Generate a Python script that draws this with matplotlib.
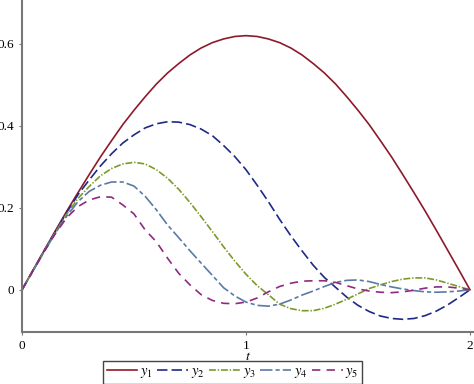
import matplotlib
matplotlib.use("Agg")
import matplotlib.pyplot as plt

plt.rcParams["font.family"] = ["Liberation Serif", "DejaVu Serif"]
plt.rcParams["mathtext.fontset"] = "stix"
plt.rcParams["lines.scale_dashes"] = False

# time grid (step 0.05) and the five solution curves
t = [0.00, 0.05, 0.10, 0.15, 0.20, 0.25, 0.30, 0.35, 0.40, 0.45,
     0.50, 0.55, 0.60, 0.65, 0.70, 0.75, 0.80, 0.85, 0.90, 0.95,
     1.00, 1.05, 1.10, 1.15, 1.20, 1.25, 1.30, 1.35, 1.40, 1.45,
     1.50, 1.55, 1.60, 1.65, 1.70, 1.75, 1.80, 1.85, 1.90, 1.95, 2.00]

y1 = [0.000, 0.049, 0.097, 0.145, 0.192, 0.237, 0.281, 0.324, 0.364, 0.403,
      0.438, 0.471, 0.502, 0.529, 0.552, 0.573, 0.590, 0.603, 0.612, 0.618,
      0.620, 0.618, 0.612, 0.603, 0.590, 0.573, 0.552, 0.529, 0.502, 0.471,
      0.438, 0.403, 0.364, 0.324, 0.281, 0.237, 0.192, 0.145, 0.097, 0.049, 0.000]

y2 = [0.000, 0.048, 0.096, 0.143, 0.189, 0.232, 0.268, 0.302, 0.332, 0.358,
      0.378, 0.395, 0.405, 0.410, 0.409, 0.403, 0.392, 0.376, 0.352, 0.325,
      0.293, 0.255, 0.215, 0.172, 0.132, 0.095, 0.060, 0.030, 0.006, -0.018,
      -0.038, -0.053, -0.064, -0.070, -0.072, -0.070, -0.063, -0.052, -0.037, -0.019, 0.000]

y3 = [0.000, 0.047, 0.095, 0.141, 0.185, 0.223, 0.252, 0.278, 0.296, 0.307,
      0.311, 0.307, 0.293, 0.272, 0.245, 0.213, 0.178, 0.142, 0.105, 0.070,
      0.038, 0.010, -0.012, -0.035, -0.046, -0.051, -0.051, -0.045, -0.035, -0.023,
      -0.010, 0.003, 0.012, 0.020, 0.026, 0.029, 0.029, 0.024, 0.016, 0.008, 0.000]

y4 = [0.000, 0.047, 0.094, 0.139, 0.180, 0.215, 0.240, 0.255, 0.263, 0.263,
      0.253, 0.228, 0.195, 0.158, 0.127, 0.095, 0.065, 0.035, 0.005, -0.015,
      -0.030, -0.038, -0.040, -0.035, -0.025, -0.013, -0.003, 0.008, 0.018, 0.023,
      0.024, 0.020, 0.013, 0.007, 0.002, -0.002, -0.005, -0.006, -0.005, -0.003, 0.000]

y5 = [0.000, 0.047, 0.094, 0.138, 0.176, 0.203, 0.219, 0.227, 0.226, 0.207,
      0.185, 0.146, 0.117, 0.077, 0.040, 0.012, -0.012, -0.026, -0.033, -0.034,
      -0.030, -0.020, -0.005, 0.008, 0.016, 0.021, 0.022, 0.022, 0.018, 0.010,
      0.002, -0.003, -0.006, -0.007, -0.005, -0.001, 0.004, 0.007, 0.007, 0.004, 0.000]

series = [y1, y2, y3, y4, y5]
labels = [r"$y_1$", r"$y_2$", r"$y_3$", r"$y_4$", r"$y_5$"]
colors = ["#8c1a2c", "#1f2a86", "#7c9a2a", "#5a7aa6", "#8e2a80"]
dashes = [None, (7.5, 3.0), (5.0, 1.3, 1.0, 1.3), (9.0, 2.2, 3.0, 2.2), (6.0, 4.5)]

yticks = [0, 0.2, 0.4, 0.6]
ytick_labels = ["0", "0.2", "0.4", "0.6"]
xticks = [0, 1, 2]
xtick_labels = ["0", "1", "2"]

fig = plt.figure(figsize=(4.74, 3.84), dpi=100)
ax = fig.add_axes([22 / 474, 52 / 384, 452 / 474, 332 / 384])

for y, lab, col, ds in zip(series, labels, colors, dashes):
    line, = ax.plot(t, y, color=col, linewidth=1.2, label=lab)
    if ds is not None:
        line.set_dashes(ds)

ax.set_xlim(0, 2.018)
ax.set_ylim(-0.103, 0.707)

for side in ["top", "right"]:
    ax.spines[side].set_visible(False)
for side in ["left", "bottom"]:
    ax.spines[side].set_color("#777777")
    ax.spines[side].set_linewidth(1.5)

ax.set_xticks(xticks)
ax.set_xticklabels(xtick_labels)
ax.set_yticks(yticks)
ax.set_yticklabels(ytick_labels)
ax.tick_params(axis="both", direction="out", length=2.5, width=0.8,
               color="#777777", labelsize=9.5, pad=3)

ax.set_xlabel(r"$t$", fontsize=10, labelpad=-1)

handles, labs = ax.get_legend_handles_labels()
fig.legend(
    handles,
    labs,
    loc="upper left",
    bbox_to_anchor=(103 / 474, 23 / 384),
    borderaxespad=0,
    ncol=5,
    fontsize=10.5,
    handlelength=2.1,
    handletextpad=0.2,
    columnspacing=0.3,
    borderpad=0.25,
    frameon=True,
    fancybox=False,
    edgecolor="#444444",
    framealpha=1,
)

fig.savefig("out.png", dpi=100)
